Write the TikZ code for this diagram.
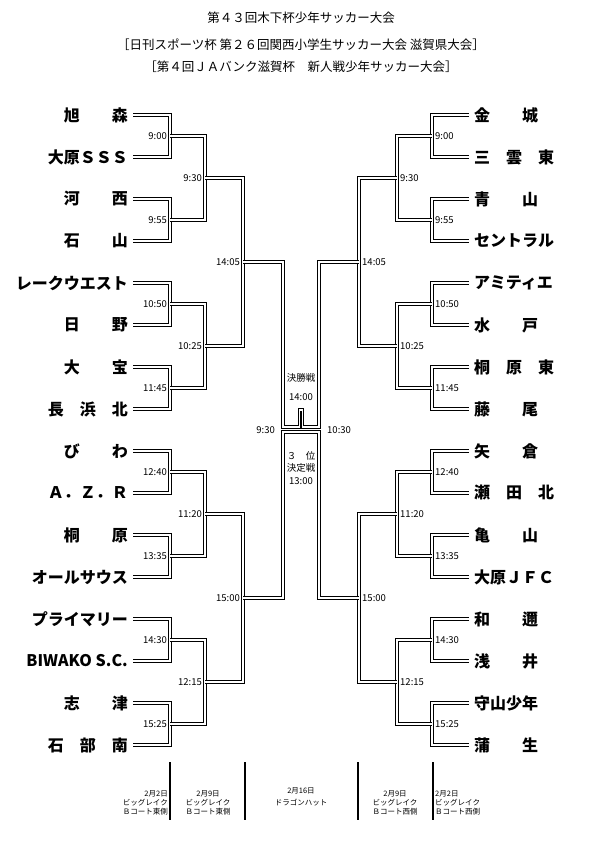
\documentclass[tikz,border=0pt]{standalone}
\usepackage{fontspec}
\setmainfont{Noto Sans CJK JP}
\usetikzlibrary{calc}

\tikzset{
  ln/.style={double,double distance=1.5pt,line width=0.9pt},
  team/.style={font=\fontsize{16}{16}\selectfont\bfseries,inner sep=0pt},
  tm/.style={font=\fontsize{9.5}{10}\selectfont,inner sep=1pt},
  tmL/.style={tm,anchor=east,xshift=-2pt},
  tmR/.style={tm,anchor=west,xshift=2pt},
  ttl/.style={font=\fontsize{12.5}{13}\selectfont,inner sep=0pt},
  foot/.style={font=\fontsize{7.5}{9}\selectfont,align=center,inner sep=0pt}
}
% bracket: upper, lower, shift, name, time, label style
\newcommand{\bra}[6]{%
  \draw[ln] (#1) -| ([xshift=#3]#2) -- (#2);
  \coordinate (#4) at ($(#1)!.5!(#2)+(#3,0)$);
  \node[#6] at (#4) {#5};
}

\begin{document}
\begin{tikzpicture}[x=1pt,y=-1pt]
\useasboundingbox (0,0) rectangle (600,848);

\node[ttl] (t1) at (301,18) {第４３回木下杯少年サッカー大会};
\node[ttl] (t2) at (301,45) {［日刊スポーツ杯 第２６回関西小学生サッカー大会 滋賀県大会］};
\node[ttl] (t3) at (301,67) {［第４回ＪＡバンク滋賀杯　新人戦少年サッカー大会］};

% teams
\foreach \n [count=\i] in {旭　　森,大原ＳＳＳ,河　　西,石　　山,レークウエスト,日　　野,大　　宝,長　浜　北,
  び　　わ,Ａ．Ｚ．Ｒ,桐　　原,オールサウス,プライマリー,{BIWAKO S.C.},志　　津,石　部　南}
  \node[team,anchor=east] (L\i) at (128,{115+42*(\i-1)}) {\n};
\foreach \n [count=\i] in {金　　城,三　雲　東,青　　山,セントラル,アミティエ,水　　戸,桐　原　東,藤　　尾,
  矢　　倉,瀬　田　北,亀　　山,大原ＪＦＣ,和　　邇,浅　　井,守山少年,蒲　　生}
  \node[team,anchor=west] (R\i) at (474,{115+42*(\i-1)}) {\n};

% stubs
\foreach \i in {1,...,16}{
  \coordinate (l\i) at ([xshift=5]L\i.east);
  \coordinate (r\i) at (469,{115+42*(\i-1)});
}

% first round
\foreach \a/\b/\k/\t in {1/2/1/9:00,3/4/2/9:55,5/6/3/10:50,7/8/4/11:45,
  9/10/5/12:40,11/12/6/13:35,13/14/7/14:30,15/16/8/15:25}{
  \bra{l\a}{l\b}{37}{aL\k}{\t}{tmL}
  \bra{r\a}{r\b}{-37}{aR\k}{\t}{tmR}
}
% second round
\foreach \a/\b/\k/\t in {1/2/1/9:30,3/4/2/10:25,5/6/3/11:20,7/8/4/12:15}{
  \bra{aL\a}{aL\b}{35}{bL\k}{\t}{tmL}
  \bra{aR\a}{aR\b}{-35}{bR\k}{\t}{tmR}
}
% third round
\foreach \a/\b/\k/\t in {1/2/1/14:05,3/4/2/15:00}{
  \bra{bL\a}{bL\b}{38}{sL\k}{\t}{tmL}
  \bra{bR\a}{bR\b}{-38}{sR\k}{\t}{tmR}
}

% final and third place
\draw[ln] (sL1) -| (283,427) -- (299.5,427) -- (299.5,410) -- (302.5,410) -- (302.5,427)
  -| ([xshift=-40]sR1) -- (sR1);
\draw[ln] (sL2) -| (283,432) -| ([xshift=-40]sR2) -- (sR2);
\node[tm] (f1) at (301,378) {決勝戦};
\node[tm] (f2) at (301,397) {14:00};
\node[tm] (p1) at (301,456) {３\quad 位};
\node[tm] (p2) at (301,468) {決定戦};
\node[tm] (p3) at (301,481) {13:00};
\node[tm,anchor=east] (sfL) at (276,430) {9:30};
\node[tm,anchor=west] (sfR) at (326,430) {10:30};

% venues
\foreach \x in {170,245,358,433}
  \draw[line width=1.2pt] (\x,762) -- (\x,820);
\node[foot,align=right,anchor=east] (v1) at (168,803) {2月2日\\ビッグレイク\\Ｂコート東側};
\node[foot] (v2) at (208,803) {2月9日\\ビッグレイク\\Ｂコート東側};
\node[foot] (v3) at (301,797) {2月16日\\[3pt]ドラゴンハット};
\node[foot] (v4) at (395,803) {2月9日\\ビッグレイク\\Ｂコート西側};
\node[foot,align=left,anchor=west] (v5) at (435,803) {2月2日\\ビッグレイク\\Ｂコート西側};
\end{tikzpicture}
\end{document}
